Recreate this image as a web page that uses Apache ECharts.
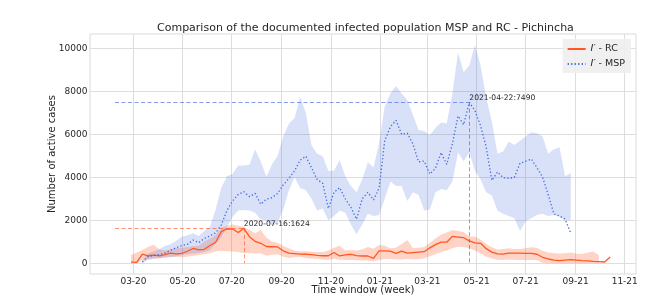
<!DOCTYPE html>
<html>
<head>
<meta charset="utf-8">
<script src="https://cdn.jsdelivr.net/npm/echarts@6/dist/echarts.min.js"></script>
<style>html,body{margin:0;padding:0;background:#fff}#c{width:670px;height:308px}</style>
</head>
<body>
<div id="c"></div>
<script>
// ---- data (weekly, Thursdays) ----
const firstWeek = '2020-02-27';            // date of the first weekly sample
const mspOffset = 2;                        // MSP series starts 2 weeks later
const refLineStart = '2020-02-07';          // left end of dashed reference lines
const xTicks = ['2020-03-01','2020-05-01','2020-07-01','2020-09-01','2020-11-01','2021-01-01',
                '2021-03-01','2021-05-01','2021-07-01','2021-09-01','2021-11-01'];
const yTicks = [0, 2000, 4000, 6000, 8000, 10000];

const rcValues = [50,45,430,350,380,350,400,470,440,460,
  560,690,620,650,830,980,1470,1595,1595,1430,
  1624,1240,1020,930,780,770,760,580,470,450,
  430,420,400,370,350,350,500,340,390,420,
  360,340,340,230,580,580,570,465,570,470,
  500,520,540,720,870,980,980,1250,1220,1190,
  1040,950,930,680,520,440,430,470,470,470,
  465,460,420,280,200,150,125,150,170,150,
  120,110,90,80,60,290];
const rcLow = [0,0,150,200,230,240,280,300,300,280,
  300,350,380,420,480,550,580,560,550,520,
  480,470,460,470,350,400,420,300,250,280,
  300,230,220,200,180,170,200,160,150,150,
  140,130,130,100,150,200,200,180,180,200,
  180,190,220,330,420,520,600,700,770,760,
  700,600,450,300,220,160,150,160,160,150,
  150,150,140,30,0,0,0,0,0,0,
  0,0,0,0];
const rcHigh = [380,500,620,760,860,650,600,650,700,720,
  760,800,820,1000,1150,1300,1650,1750,1800,1750,
  1700,1550,1400,1550,1200,1000,950,800,700,600,
  560,560,540,530,520,600,720,820,600,620,
  600,640,760,680,850,820,700,720,900,1080,
  700,720,760,950,1150,1330,1430,1550,1500,1450,
  1250,1250,1100,900,750,640,660,700,660,660,
  700,750,720,580,500,470,450,470,500,440,
  430,500,540,380];

const mspValues = [60,300,360,400,470,600,730,820,880,1080,
  960,1150,1280,1420,1780,2450,2900,3200,3330,3100,
  3250,2750,2980,3050,3250,3650,3950,4300,4800,4980,
  4450,3900,3720,2550,3300,3520,3000,2600,2050,3000,
  3300,2950,3500,5700,6350,6650,6000,6050,5550,4720,
  4750,4150,4420,5150,4600,5550,6850,6450,7490,7100,
  6400,5400,3850,4250,3980,3950,4000,4650,4750,4850,
  4450,4000,3200,2300,2200,2050,1400];
const mspLow = [0,150,200,230,260,280,320,380,420,450,
  480,520,620,900,1200,1700,2150,2450,2480,2450,
  2350,2050,2000,1750,1900,2500,3400,4000,3500,3400,
  3000,2450,2550,2000,2200,2450,2350,1800,1350,1800,
  2300,2200,2250,3000,3800,3600,3600,2900,3300,3180,
  2450,2500,3300,3450,3400,3800,5150,4750,5150,4300,
  3900,3300,3150,2450,2300,2200,2100,1500,1950,2100,
  2250,2300,2200,2250,2170,2015,2015];
const mspHigh = [150,450,550,650,800,880,1050,1240,1300,1400,
  1270,1500,1700,2500,3500,4050,4150,4550,4550,4580,
  5300,4750,4030,4600,5000,5900,6500,6750,7750,7000,
  5500,5100,4980,4300,4300,4800,4050,3600,3300,3900,
  4700,4450,5600,7300,7900,8250,7900,7600,6900,6200,
  6150,5950,6300,6550,6500,7900,9800,8900,9200,10150,
  9200,7700,6600,5100,5200,5650,5500,5700,5900,6100,
  6050,5900,5100,5300,5400,4050,4200];

// ---- helpers ----
function ts(s){const p=s.split('-').map(Number);return new Date(p[0],p[1]-1,p[2]).getTime();}
const nWeeks = rcValues.length;
const weeks = [];
for (let i=0;i<nWeeks;i++){ const d=new Date(ts(firstWeek)); d.setDate(d.getDate()+7*i); weeks.push(d.getTime()); }
function fmtDate(t){const d=new Date(t);const p=n=>String(n).padStart(2,'0');return d.getFullYear()+'-'+p(d.getMonth()+1)+'-'+p(d.getDate());}
function argmax(a){let b=0;for(let i=1;i<a.length;i++) if(a[i]>a[b]) b=i; return b;}

const rcColor = '#ff5722', mspColor = '#4169e1';
const rcFill = 'rgba(255,87,34,0.26)', mspFill = 'rgba(65,105,225,0.2)';
const FONT = 'DejaVu Sans';
const TXT = '#262626';

const rcData = rcValues.map((v,i)=>[weeks[i], v]);
const mspData = mspValues.map((v,i)=>[weeks[i+mspOffset], v]);

function band(lo, hi, offset, color, z){
  const pts = lo.map((v,i)=>[weeks[i+offset], v, hi[i]]);
  return {
    type:'custom', silent:true, z:z, data: pts,
    encode:{x:0, y:[1,2]},
    renderItem:function(params, api){
      if (params.dataIndex !== 0) return null;
      const up = pts.map(p=>api.coord([p[0], p[2]]));
      const dn = pts.map(p=>api.coord([p[0], p[1]])).reverse();
      return {type:'polygon', shape:{points: up.concat(dn)}, style:{fill: color}};
    }
  };
}

function annot(values, offset, color){
  const k = argmax(values);
  const t = weeks[k+offset], v = values[k];
  return {
    markLine:{silent:true, symbol:'none', animation:false,
      lineStyle:{type:[4,2.5], width:1, color: color, opacity:0.65},
      label:{show:false},
      data:[ [{coord:[ts(refLineStart), v]}, {coord:[t, v]}],
             [{coord:[t, v]}, {coord:[t, 0]}] ]},
    markPoint:{silent:true, symbol:'circle', symbolSize:0, animation:false,
      data:[{coord:[t, v], value:v,
        label:{show:true, position:[0,0], align:'left', verticalAlign:'bottom',
          formatter: fmtDate(t)+':'+v, fontSize:7.6, lineHeight:8, color:TXT, fontFamily:FONT}}]}
  };
}

const chart = echarts.init(document.getElementById('c'), null, {renderer:'canvas'});
chart.setOption({
  animation:false,
  backgroundColor:'#fff',
  title:{text:'Comparison of the documented infected population MSP and RC - Pichincha',
    left:152, top:18, textStyle:{fontFamily:FONT, fontSize:11, fontWeight:'normal', color:TXT}},
  grid:{left:90, right:34, top:34, bottom:34, show:true, borderColor:'#d9d9d9', borderWidth:1, backgroundColor:'#fff'},
  legend:{data:['rc','msp'], orient:'vertical', right:39, top:39,
    backgroundColor:'rgba(238,238,238,0.9)', padding:[5,6,4,4], itemGap:5,
    itemWidth:18, itemHeight:8,
    itemStyle:{color:'rgba(0,0,0,0)', borderWidth:0, opacity:0},
    formatter:function(n){ return n==='rc' ? '{i|I′} - RC' : '{i|I′} - MSP'; },
    textStyle:{fontFamily:FONT, fontSize:9.5, color:TXT,
      rich:{i:{fontFamily:FONT, fontStyle:'italic', fontSize:9.5, color:TXT}}}},
  xAxis:{type:'value', min:ts('2020-01-07'), max:ts('2021-11-15'),
    name:'Time window (week)', nameLocation:'middle', nameGap:11, nameMoveOverlap:false,
    nameTextStyle:{fontFamily:FONT, fontSize:10, color:TXT},
    axisLine:{show:false}, axisTick:{show:false, customValues: xTicks.map(ts)},
    axisLabel:{customValues: xTicks.map(ts), fontFamily:FONT, fontSize:9, color:TXT, margin:3,
      formatter:function(v){const d=new Date(v);return String(d.getMonth()+1).padStart(2,'0')+'-'+String(d.getFullYear()%100).padStart(2,'0');}},
    splitLine:{show:true, lineStyle:{color:'#dedede', width:1}}},
  yAxis:{type:'value', min:-498, max:10665,
    name:'Number of active cases', nameLocation:'middle', nameGap:33, nameMoveOverlap:false,
    nameTextStyle:{fontFamily:FONT, fontSize:10, color:TXT},
    axisLine:{show:false}, axisTick:{show:false, customValues: yTicks},
    axisLabel:{customValues: yTicks, fontFamily:FONT, fontSize:9, color:TXT, margin:2.5,
      formatter:function(v){return String(v);}},
    splitLine:{show:true, lineStyle:{color:'#dedede', width:1}}},
  series:[
    band(rcLow, rcHigh, 0, rcFill, 1),
    band(mspLow, mspHigh, mspOffset, mspFill, 2),
    Object.assign({name:'rc', type:'line', data:rcData, showSymbol:false, symbol:'none', z:3,
      lineStyle:{color:rcColor, width:1.3}, itemStyle:{color:rcColor}}, annot(rcValues, 0, rcColor)),
    Object.assign({name:'msp', type:'line', data:mspData, showSymbol:false, symbol:'none', z:4,
      lineStyle:{color:mspColor, width:1.3, type:[1.3,2.2]}, itemStyle:{color:mspColor}}, annot(mspValues, mspOffset, mspColor))
  ]
});
</script>
</body>
</html>
